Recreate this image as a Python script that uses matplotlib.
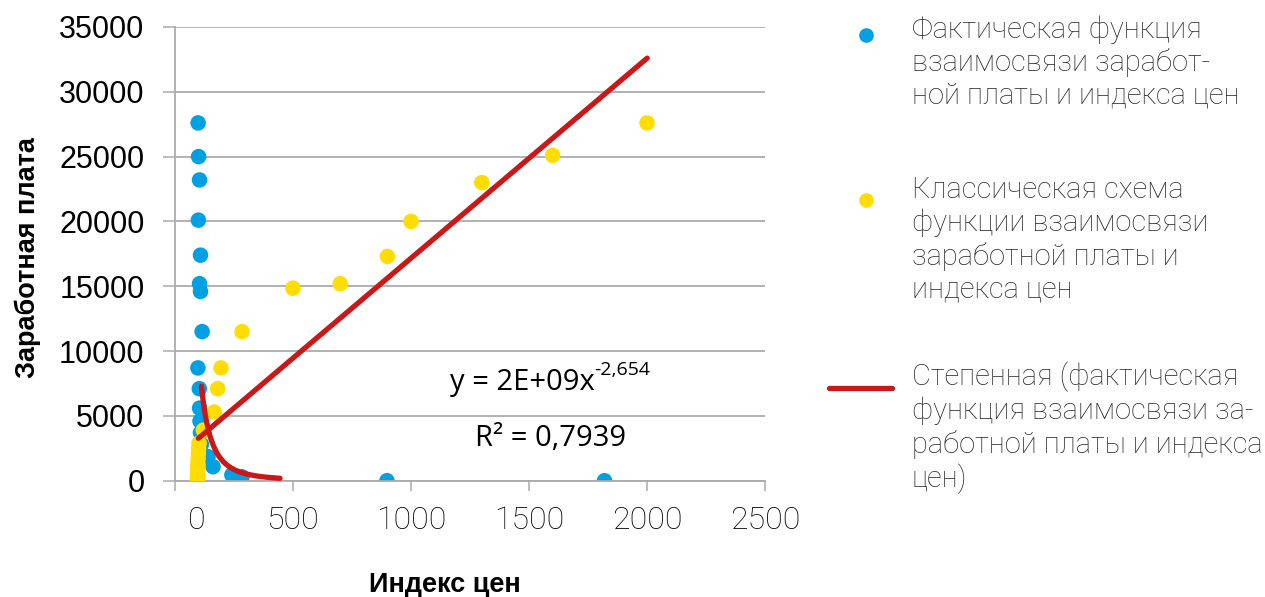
import numpy as np
import matplotlib
matplotlib.use("Agg")
import matplotlib.pyplot as plt
from matplotlib.lines import Line2D
from matplotlib.transforms import ScaledTranslation

# Actual wage vs. price index
actual_x = [98, 100, 104, 99, 108, 104, 108, 115, 97, 103, 104, 106, 108, 112, 140, 161, 241, 284, 898, 1820]
actual_y = [27600, 25000, 23200, 20100, 17400, 15200, 14600, 11500, 8700, 7100, 5600, 4600, 3700, 2800,
            1850, 1080, 440, 300, 0, 0]

# Classical scheme
classic_x = [2000, 1600, 1300, 1000, 900, 700, 500, 284, 195, 181, 166, 120, 102, 100, 99, 98, 97, 97, 96, 96, 95, 95]
classic_y = [27600, 25100, 23000, 20000, 17300, 15200, 14850, 11500, 8700, 7100, 5300, 3900, 2900, 2500, 2100,
             1700, 1300, 1000, 700, 400, 200, 0]

# Power trend of the actual series: y = a * x^b
power_a = 2e9
power_b = -2.654
power_r2 = 0.7939
power_range = (112, 445)

# Straight trend line of the classical series
lin_slope = 15.42
lin_intercept = 1745
lin_range = (99, 2001)

x_ticks = [0, 500, 1000, 1500, 2000, 2500]
y_ticks = [0, 5000, 10000, 15000, 20000, 25000, 30000, 35000]

BLUE = "#00A0E3"
YELLOW = "#FFDD00"
RED = "#CC1719"
GRID = "#ABABAB"

W, H = 1265, 597
fig = plt.figure(figsize=(W / 100, H / 100), dpi=100)
ax = fig.add_axes([175 / W, 1 - 480.7 / H, (765 - 175) / W, (480.7 - 27) / H])

ax.set_xlim(0, 2500)
ax.set_ylim(0, 35000)
ax.set_xticks(x_ticks)
ax.set_yticks(y_ticks)
ax.grid(axis="y", color=GRID, linewidth=1.3)
ax.set_axisbelow(True)
for side in ("top", "right"):
    ax.spines[side].set_visible(False)
ax.spines["left"].set_color(GRID)
ax.spines["bottom"].set_color(GRID)
ax.spines["left"].set_linewidth(1.3)
ax.spines["bottom"].set_linewidth(1.3)
ax.tick_params(axis="y", direction="out", length=9, width=1.1, color=GRID, pad=13,
               labelsize=22)
ax.tick_params(axis="x", direction="out", length=7.5, width=1.1, color=GRID, pad=11,
               labelsize=23)
for lab in ax.get_yticklabels():
    lab.set_fontfamily("Liberation Sans")
for lab in ax.get_xticklabels():
    lab.set_fontfamily("Roboto")
    lab.set_fontweight("light")
# the zero label sits a little to the right of the axis line
first = ax.get_xticklabels()[0]
first.set_transform(first.get_transform() + ScaledTranslation(22 / 100, 0, fig.dpi_scale_trans))

ax.scatter(classic_x, classic_y, s=125, color=YELLOW, edgecolors="none", zorder=3)
ax.scatter(actual_x, actual_y, s=125, color=BLUE, edgecolors="none", zorder=2)

px = np.linspace(power_range[0], power_range[1], 200)
ax.plot(px, power_a * px ** power_b, color=RED, linewidth=3.8, solid_capstyle="round", zorder=4)
lx = np.array(lin_range)
ax.plot(lx, lin_slope * lx + lin_intercept, color=RED, linewidth=3.8, solid_capstyle="round", zorder=4)

eq = ax.text(1165, 7600, "y = 2E+09x", fontsize=21, family="Open Sans", ha="left", va="center")
ax.annotate("-2,654", xy=(1.0, 0.93), xycoords=eq, fontsize=14, family="Open Sans",
            ha="left", va="center")
ax.text(1593, 3250, f"R² = {power_r2:.4f}".replace(".", ","), fontsize=21, family="Open Sans",
        ha="center", va="center")

fig.text(28 / W, 1 - 258 / H, "Заработная плата", rotation=90, fontsize=19.5, fontweight="bold",
         family="Liberation Sans", ha="center", va="center")
fig.text(445 / W, 1 - 585 / H, "Индекс цен", fontsize=19.5, fontweight="bold",
         family="Liberation Sans", ha="center", va="center")

# legend drawn by hand on the right
legend_font = dict(fontsize=21, family="Roboto", fontweight="light", color="#2b2b2b",
                   ha="left", va="top", linespacing=1.2)
fig.text(912 / W, 1 - 15 / H, "Фактическая функция\nвзаимосвязи заработ-\nной платы и индекса цен",
         **legend_font)
fig.text(912 / W, 1 - 176 / H, "Классическая схема\nфункции взаимосвязи\nзаработной платы и\nиндекса цен",
         **legend_font)
fig.text(912 / W, 1 - 362 / H,
         "Степенная (фактическая\nфункция взаимосвязи за-\nработной платы и индекса\nцен)",
         **legend_font)
fig.add_artist(Line2D([866 / W], [1 - 35 / H], marker="o", markersize=10.5, color=BLUE,
                      markeredgewidth=0, transform=fig.transFigure))
fig.add_artist(Line2D([866 / W], [1 - 200 / H], marker="o", markersize=10.5, color=YELLOW,
                      markeredgewidth=0, transform=fig.transFigure))
fig.add_artist(Line2D([829 / W, 892 / W], [1 - 388 / H, 1 - 388 / H], color=RED, linewidth=3.8,
                      solid_capstyle="round", transform=fig.transFigure))

fig.savefig("out.png", dpi=100)
